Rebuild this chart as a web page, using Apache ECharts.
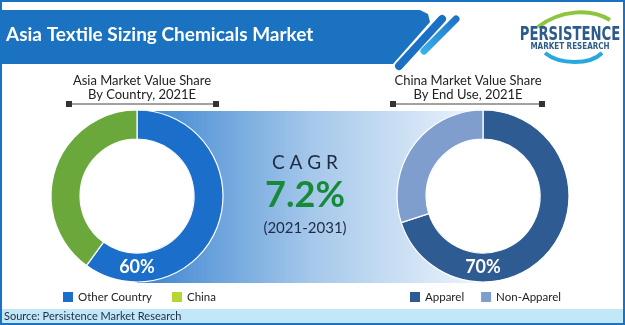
<!DOCTYPE html>
<html>
<head>
<meta charset="utf-8">
<script src="https://cdn.jsdelivr.net/npm/echarts@6/dist/echarts.min.js"></script>
<style>
html,body{margin:0;padding:0;background:#fff;}
#chart{width:625px;height:325px;}
</style>
</head>
<body>
<div id="chart"></div>
<script>
// ---- data ----
const chartTitle = 'Asia Textile Sizing Chemicals Market';
const leftTitle = ['Asia Market Value Share', 'By Country, 2021E'];
const rightTitle = ['China Market Value Share', 'By End Use, 2021E'];
const leftCategories = ['Other Country', 'China'];
const leftValues = [60, 40];
const rightCategories = ['Apparel', 'Non-Apparel'];
const rightValues = [70, 30];
const cagrLabel = 'C A G R';
const cagrValue = '7.2%';
const cagrPeriod = '(2021-2031)';
const sourceText = 'Source: Persistence Market Research';

const leftColors = ['#1b6fca', '#6aa83c'];
const rightColors = ['#2f5b93', '#7f9ecd'];

const chart = echarts.init(document.getElementById('chart'), null, {renderer: 'canvas'});

const LC = [137, 196], RC = [483, 196], RIN = 57, ROUT = 86;

function pieSeries(name, cats, vals, colors, center) {
  return {
    type: 'pie', name: name, center: center, radius: [RIN, ROUT],
    startAngle: 90, clockwise: true, silent: true, z: 5,
    itemStyle: {borderColor: '#ffffff', borderWidth: 1.2},
    data: cats.map((c, i) => ({name: c, value: vals[i], itemStyle: {color: colors[i]},
      label: {show: i === 0}})),
    label: {
      show: true, position: 'inside', formatter: '{c}%',
      color: '#ffffff', fontFamily: 'Lato', fontWeight: 'bold', fontSize: 18
    },
    labelLine: {show: false},
    labelLayout: function () {
      return {x: center[0], y: center[1] + (RIN + ROUT) / 2, align: 'center', verticalAlign: 'middle'};
    }
  };
}

function titleLines(lines, cx, lineX1, lineX2) {
  return [
    {type: 'text', x: cx, y: 81, style: {text: lines[0], fill: '#222', font: '13px Lato', align: 'center', verticalAlign: 'middle'}},
    {type: 'text', x: cx, y: 95, style: {text: lines[1], fill: '#222', font: '13px Lato', align: 'center', verticalAlign: 'middle'}},
    {type: 'line', shape: {x1: lineX1, y1: 104, x2: lineX2, y2: 104}, style: {stroke: '#444', lineWidth: 1}},
    {type: 'rect', shape: {x: lineX1 - 3, y: 101, width: 6, height: 6}, style: {fill: '#333'}},
    {type: 'rect', shape: {x: lineX2 - 3, y: 101, width: 6, height: 6}, style: {fill: '#333'}}
  ];
}

const graphics = [
  // outer border
  {type: 'rect', shape: {x: 1, y: 1, width: 623, height: 323}, style: {fill: 'none', stroke: '#1a72c2', lineWidth: 2}, z: 100},
  // title banner
  {type: 'polygon', shape: {points: [[0, 10], [420, 10], [428, 14], [430, 22], [393, 64], [0, 64]]}, style: {fill: '#1b72c0'}, z: 1},
  {type: 'text', x: 6, y: 35, style: {text: chartTitle, fill: '#ffffff', font: 'bold 19px Lato', verticalAlign: 'middle'}, z: 2},
  // slashes
  {type: 'line', shape: {x1: 399, y1: 66, x2: 442, y2: 19}, style: {stroke: '#1b6fc4', lineWidth: 8, lineCap: 'round'}, z: 2},
  {type: 'line', shape: {x1: 424, y1: 51, x2: 456, y2: 19}, style: {
    stroke: new echarts.graphic.LinearGradient(0, 1, 1, 0, [{offset: 0, color: '#3ab4ea'}, {offset: 1, color: '#1b6fc4'}]),
    lineWidth: 7, lineCap: 'round'}, z: 2},
  // logo
  {type: 'bezierCurve', shape: {x1: 538, y1: 27, x2: 610, y2: 20, cpx1: 560, cpy1: 10, cpx2: 590, cpy2: 8}, style: {stroke: '#8cc63f', lineWidth: 4, fill: 'none'}, z: 2},
  {type: 'bezierCurve', shape: {x1: 545, y1: 53, x2: 602, y2: 53, cpx1: 560, cpy1: 65, cpx2: 590, cpy2: 65}, style: {stroke: '#29a8e0', lineWidth: 4, fill: 'none'}, z: 2},
  {type: 'text', x: 570, y: 35, scaleX: 0.66, style: {text: 'PERSISTENCE', fill: '#2d5b8c', font: 'bold 20px "DejaVu Sans"', align: 'center', verticalAlign: 'middle'}, z: 3},
  {type: 'text', x: 570, y: 47, scaleX: 0.9, style: {text: 'MARKET RESEARCH', fill: '#2d5b8c', font: 'bold 8px "DejaVu Sans"', align: 'center', verticalAlign: 'middle'}, z: 3},
  // gradient band
  {type: 'rect', shape: {x: LC[0], y: 111, width: RC[0] - LC[0], height: 172}, style: {
    fill: new echarts.graphic.LinearGradient(0, 0, 1, 0, [
      {offset: 0, color: '#3a84d0'}, {offset: 0.5, color: '#a4c7ea'}, {offset: 1, color: '#eef5fc'}])}, z: 0},
  // white donut holes
  {type: 'circle', shape: {cx: LC[0], cy: LC[1], r: RIN}, style: {fill: '#ffffff'}, z: 1},
  {type: 'circle', shape: {cx: RC[0], cy: RC[1], r: RIN}, style: {fill: '#ffffff'}, z: 1},
  // CAGR
  {type: 'text', x: 305, y: 163, style: {text: cagrLabel, fill: '#1e2b45', font: '19px Lato', align: 'center', verticalAlign: 'middle'}, z: 3},
  {type: 'text', x: 305, y: 195, style: {text: cagrValue, fill: '#178a3a', font: 'bold 36px Lato', align: 'center', verticalAlign: 'middle'}, z: 3},
  {type: 'text', x: 305, y: 228, style: {text: cagrPeriod, fill: '#1e2b45', font: '15px Lato', align: 'center', verticalAlign: 'middle'}, z: 3},
  // footer
  {type: 'rect', shape: {x: 0, y: 309, width: 625, height: 16}, style: {fill: '#c2e8f7'}, z: 1},
  {type: 'text', x: 4, y: 316, style: {text: sourceText, fill: '#1e2b45', font: '11px Lato', verticalAlign: 'middle'}, z: 2}
].concat(titleLines(leftTitle, 142, 69, 216), titleLines(rightTitle, 468, 393, 542));

const legendBase = {top: 286, itemWidth: 10, itemHeight: 10, icon: 'rect',
  itemStyle: {borderWidth: 0},
  textStyle: {fontFamily: 'Lato', fontSize: 11.5, color: '#222'}, selectedMode: false};

chart.setOption({
  animation: false,
  backgroundColor: '#ffffff',
  legend: [
    Object.assign({}, legendBase, {data: leftCategories, left: 58, itemGap: 20}),
    Object.assign({}, legendBase, {data: rightCategories, left: 405, itemGap: 17})
  ],
  graphic: graphics,
  series: [
    pieSeries('Asia', leftCategories, leftValues, leftColors, LC),
    pieSeries('China', rightCategories, rightValues, rightColors, RC)
  ]
});
</script>
</body>
</html>
